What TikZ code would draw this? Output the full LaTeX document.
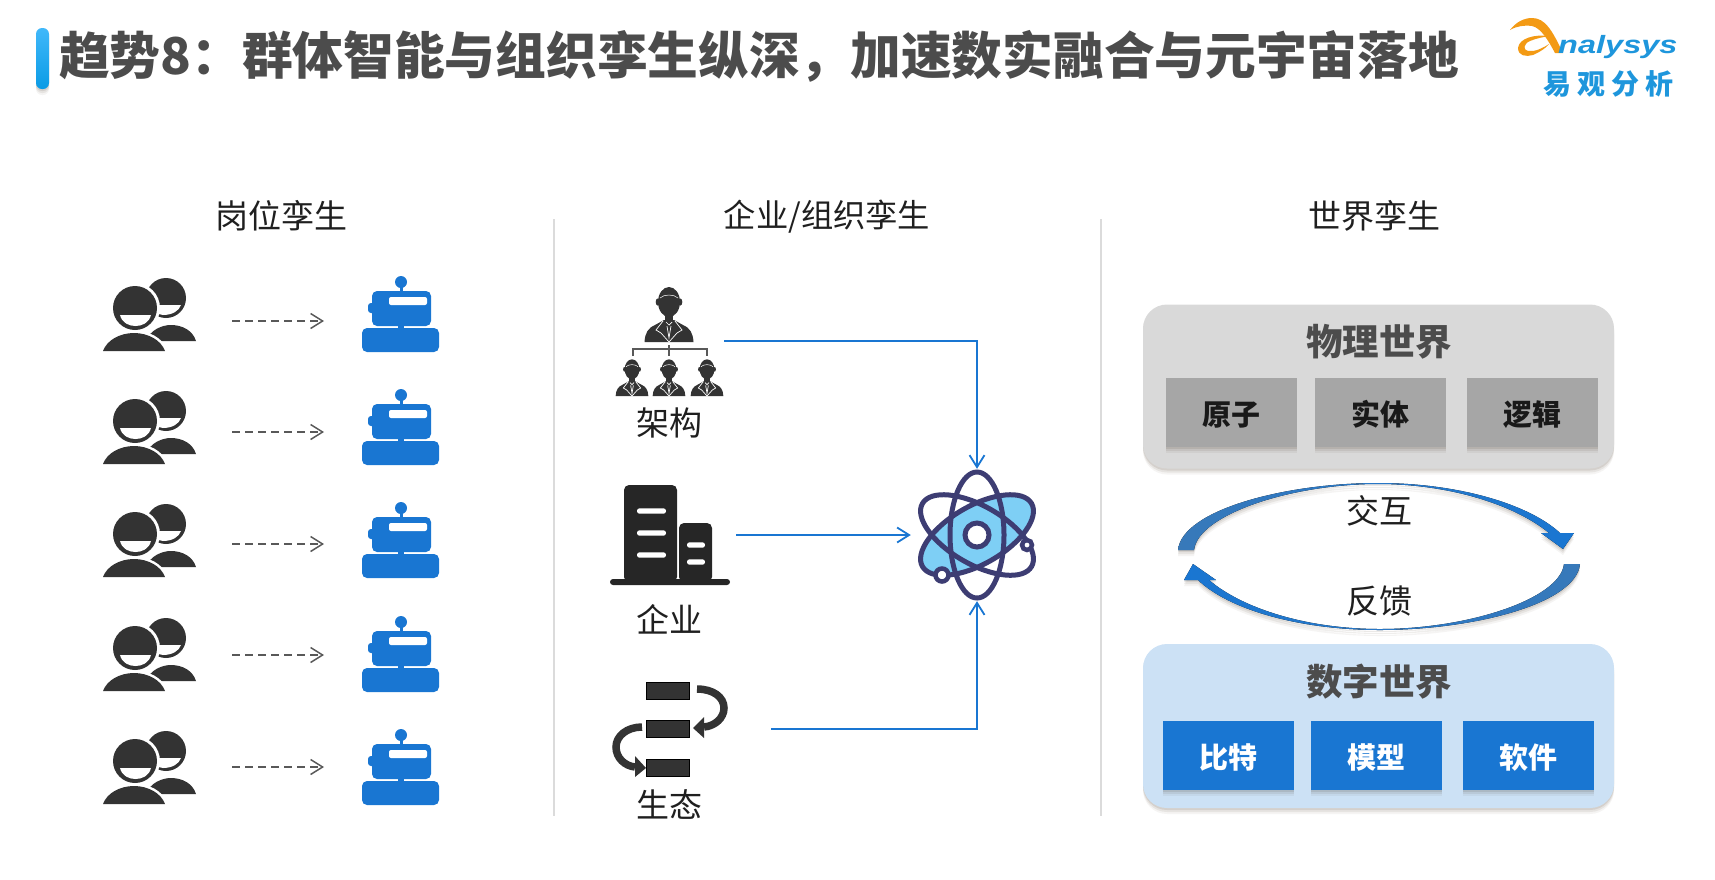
\documentclass[tikz,border=0pt]{standalone}
\usepackage{fontspec}
\setmainfont{Noto Sans CJK SC}
\newfontfamily\logofont{Liberation Sans}
\usetikzlibrary{arrows.meta,shadows}
\definecolor{flowblue}{HTML}{1976D2}
\definecolor{darkicon}{HTML}{333333}
\definecolor{atomline}{HTML}{3D3D73}
\definecolor{atomfill}{HTML}{7ECFF5}
\definecolor{logoblue}{HTML}{1E96DC}
\definecolor{logoorange}{HTML}{F39A14}
\definecolor{bartop}{HTML}{41B8FA}
\definecolor{barbottom}{HTML}{0A9BE5}
\tikzset{
  softshadow/.style={
    drop shadow={shadow xshift=0pt,shadow yshift=-6pt,opacity=.05,fill=black!70!brown},
    drop shadow={shadow xshift=0pt,shadow yshift=-4pt,opacity=.08,fill=black!70!brown},
    drop shadow={shadow xshift=0pt,shadow yshift=-2pt,opacity=.10,fill=black!70!brown}},
  headtext/.style={font=\fontsize{33}{36}\selectfont, text=black!88, inner sep=0pt},
  paneltitle/.style={font=\fontsize{36.5}{40}\selectfont\bfseries, text=black!70, inner sep=0pt},
  panelbox/.style={rounded corners=24pt, minimum width=471pt, minimum height=164pt, inner sep=0pt, softshadow},
  itembox/.style={minimum width=131pt, minimum height=69pt, inner sep=0pt, text height=26pt, text depth=1pt,
    font=\fontsize{29}{32}\selectfont\bfseries, softshadow},
  divider/.style={draw=black!14, line width=2pt},
  flowline/.style={draw=flowblue, line width=1.8pt, -{Straight Barb[length=12pt,width=15pt,line width=1.8pt]}},
  dashline/.style={draw=black!65, line width=1.5pt, dash pattern=on 8pt off 5pt,
    -{Straight Barb[length=12pt,width=15pt,line width=1.5pt]}},
  peopleicon/.pic={
    \fill[darkicon] (166,298) circle (20pt);
    \fill[white] (155,305) -- (181,305) .. controls (179,311) and (172,315) .. (163,315)
      .. controls (157,315) and (155,310) .. (155,305) -- cycle;
    \fill[darkicon] (146,341) .. controls (150,330) and (162,325) .. (171,325)
      .. controls (183,325) and (193,331) .. (196,341) -- cycle;
    \fill[white] (135,308) circle (25pt);
    \fill[darkicon] (135,308) circle (22pt);
    \fill[white] (120,315) -- (151,315) .. controls (149,323) and (142,326) .. (135.5,326)
      .. controls (129,326) and (122,323) .. (120,315) -- cycle;
    \draw[white, line width=5pt] (103,351) .. controls (107,340) and (120,333) .. (134,333)
      .. controls (148,333) and (161,340) .. (165,351);
    \fill[darkicon] (103,351) .. controls (107,340) and (120,333) .. (134,333)
      .. controls (148,333) and (161,340) .. (165,351) -- cycle;
  },
  roboticon/.pic={
    \fill[flowblue] (401,282) circle (6pt);
    \fill[flowblue] (399.5,285) rectangle (402.5,292);
    \fill[flowblue, rounded corners=3pt] (368,303) rectangle (376,313);
    \fill[flowblue, rounded corners=5pt] (372,291) rectangle (431,326);
    \fill[white, rounded corners=2pt] (389,297) rectangle (427,305);
    \fill[flowblue] (398,326) rectangle (404,329);
    \fill[flowblue, rounded corners=5pt] (362,328) rectangle (439,352);
  },
  manicon/.pic={
    \fill[darkicon] (0,-40) ellipse [x radius=11pt, y radius=15pt];
    \fill[darkicon] (-11.5,-40) ellipse [x radius=1.8pt, y radius=3.5pt];
    \fill[darkicon] (11.5,-40) ellipse [x radius=1.8pt, y radius=3.5pt];
    \fill[darkicon] (-4,-28) rectangle (4,-18);
    \fill[darkicon] (-24.5,0) .. controls (-24,-9) and (-21,-14) .. (-14,-17) -- (-5,-22) -- (5,-22)
      -- (14,-17) .. controls (21,-14) and (24,-9) .. (24.5,0) -- cycle;
    \draw[white, line width=.7pt] (-6,-21) -- (-13,-12) -- (-8,-9) -- (0,0) -- (8,-9) -- (13,-12) -- (6,-21);
    \draw[white, line width=.7pt] (-3,-20) -- (0,-17) -- (3,-20) (-2,-16) -- (0,-4) -- (2,-16);
    \draw[white, line width=.5pt] (-9,-44) .. controls (-5,-48) and (5,-48) .. (9,-44);
  }
}
\begin{document}
\begin{tikzpicture}[x=1pt,y=-1pt]
  \useasboundingbox (0,0) rectangle (1715,879);

  \node[minimum width=13pt, minimum height=61pt, inner sep=0pt, rounded corners=6pt,
    top color=bartop, bottom color=barbottom, softshadow] (bar) at (42.5,58.5) {};
  \node[anchor=west, inner sep=0pt, text=black!70, font=\fontsize{50.7}{56}\selectfont\bfseries] (title) at (59,56)
    {趋势8：群体智能与组织孪生纵深，加速数实融合与元宇宙落地};

  \fill[logoorange] (1510,30) .. controls (1516,22) and (1524,18) .. (1532,18)
    .. controls (1545,18) and (1552,30) .. (1563,53) -- (1555,53)
    .. controls (1548,40) and (1541,28) .. (1532,26) .. controls (1524,25) and (1517,26) .. (1510,30) -- cycle;
  \fill[logoorange] (1550,36) .. controls (1535,34) and (1519,38) .. (1518,48)
    .. controls (1518,56) and (1526,57) .. (1533,55) .. controls (1540,52) and (1546,48) .. (1549,44)
    .. controls (1543,48) and (1535,52) .. (1528,51) .. controls (1523,50) and (1523,44) .. (1530,41)
    .. controls (1537,38) and (1544,37) .. (1550,36) -- cycle;
  \node[anchor=base west, inner sep=0pt, text=logoblue] (logotext) at (1558,53)
    {\scalebox{1.3}[1]{\logofont\fontsize{25}{28}\selectfont\bfseries\itshape nalysys}};
  \node[inner sep=0pt, text=logoblue, font=\fontsize{28}{32}\selectfont\bfseries] (logocn) at (1608.5,84)
    {易\hspace{6pt}观\hspace{6pt}分\hspace{6pt}析};

  \node[headtext] (headjob) at (281,216) {岗位孪生};
  \node[headtext, font=\fontsize{32.3}{36}\selectfont] (headorg) at (827,217) {企业/组织孪生};
  \node[headtext] (headworld) at (1374,216) {世界孪生};
  \draw[divider] (554,219) -- (554,816);
  \draw[divider] (1101,219) -- (1101,816);

  \foreach \i/\dy/\ay in {1/0/321,2/113/432,3/226/544,4/340/655,5/453/767} {
    \pic at (0,\dy) {peopleicon};
    \pic at (0,\dy) {roboticon};
    \coordinate (man\i) at (232,\ay);
    \coordinate (bot\i) at (324,\ay);
    \draw[dashline] (man\i) -- (bot\i);
  }

  \pic at (669,342) {manicon};
  \pic[scale=.667] at (632,396) {manicon};
  \pic[scale=.667] at (669,396) {manicon};
  \pic[scale=.667] at (707,396) {manicon};
  \draw[black!65, line width=1.2pt] (633,356) -- (633,349) -- (707,349) -- (707,356) (669,345) -- (669,356);
  \node[headtext] (lblorg) at (669,423) {架构};

  \fill[black!85, rounded corners=5pt] (624,582) -- (624,485) -- (677,485) -- (677,582) -- cycle;
  \fill[black!85, rounded corners=5pt] (679,582) -- (679,523) -- (712,523) -- (712,582) -- cycle;
  \fill[black!85, rounded corners=3pt] (610,579) rectangle (730,585);
  \foreach \wy in {511,533,555}
    \fill[white, rounded corners=2.5pt] (637,\wy-2.7) rectangle (666,\wy+2.7);
  \foreach \wy in {545,562}
    \fill[white, rounded corners=2.5pt] (687,\wy-2.7) rectangle (705,\wy+2.7);
  \node[headtext] (lblfirm) at (669,619) {企业};

  \foreach \ry in {682,720,759}
    \draw[black, fill=darkicon, line width=1.5pt] (646.7,\ry+.7) rectangle (689.3,\ry+17.7);
  \draw[darkicon, line width=7.5pt] (697,689) .. controls (713,689) and (724,697) .. (724,708)
    .. controls (724,718) and (715,726) .. (704,727);
  \fill[darkicon] (693,728) -- (704,717) -- (704,738) -- cycle;
  \draw[darkicon, line width=7.5pt] (642,727) .. controls (627,727) and (616,736) .. (616,747)
    .. controls (616,758) and (625,766) .. (635,767);
  \fill[darkicon] (646,768) -- (635,756) -- (635,777) -- cycle;
  \node[headtext] (lbleco) at (669,805) {生态};

  \fill[atomfill] (977,535) ellipse [x radius=63pt, y radius=29pt, rotate=30];
  \draw[atomline, line width=5pt] (977,535) ellipse [x radius=63pt, y radius=29pt, rotate=30];
  \draw[atomline, line width=5pt] (977,535) ellipse [x radius=63pt, y radius=29pt, rotate=-30];
  \draw[atomline, line width=5pt] (977,535) ellipse [x radius=27pt, y radius=63pt];
  \draw[atomline, fill=white, line width=5pt] (977,535) circle (12pt);
  \draw[atomline, fill=white, line width=4.5pt] (1027,545) circle (5pt);
  \draw[atomline, fill=white, line width=4.5pt] (942,575) circle (6.5pt);
  \node[circle, minimum size=132pt, inner sep=0pt] (atom) at (977,535) {};

  \coordinate (orgout) at (724,341);
  \coordinate (firmout) at (736,535);
  \coordinate (ecoout) at (771,729);
  \draw[flowline] (orgout) -| (atom.north);
  \draw[flowline] (firmout) -- (atom.west);
  \draw[flowline] (ecoout) -| (atom.south);

  \node[panelbox, fill=black!15] (phys) at (1378.5,386.5) {};
  \node[paneltitle] (physname) at (1379,342) {物理世界};
  \node[itembox, fill=black!35, text=black!90] (atomitem) at (1231.5,412.5) {原子};
  \node[itembox, fill=black!35, text=black!90] (entity) at (1380,412.5) {实体};
  \node[itembox, fill=black!35, text=black!90] (logic) at (1532,412.5) {逻辑};

  \fill[left color=flowblue!70!gray, right color=flowblue, softshadow]
    (1178,550) .. controls (1182,510) and (1285,483) .. (1378,483)
    .. controls (1460,483) and (1530,505) .. (1560,533) -- (1574,533) -- (1563,549) -- (1541,533) -- (1549,533)
    .. controls (1515,505) and (1450,484) .. (1378,484) .. controls (1290,484) and (1198,515) .. (1194,550) -- cycle;
  \fill[left color=flowblue, right color=flowblue!70!gray, softshadow]
    (1580,564) .. controls (1576,604) and (1473,630) .. (1380,630)
    .. controls (1298,630) and (1228,609) .. (1198,580) -- (1184,580) -- (1193,564) -- (1216,580) -- (1209,580)
    .. controls (1243,609) and (1308,629) .. (1380,629) .. controls (1468,629) and (1560,599) .. (1564,564) -- cycle;
  \node[headtext] (swap) at (1379,511) {交互};
  \node[headtext] (reply) at (1379,601) {反馈};

  \node[panelbox, fill=flowblue!22!white] (digi) at (1378.5,726) {};
  \node[paneltitle] (diginame) at (1379,682) {数字世界};
  \node[itembox, fill=flowblue, text=white] (bit) at (1228,755.5) {比特};
  \node[itembox, fill=flowblue, text=white] (model) at (1376.5,755.5) {模型};
  \node[itembox, fill=flowblue, text=white] (soft) at (1528.5,755.5) {软件};
\end{tikzpicture}
\end{document}
